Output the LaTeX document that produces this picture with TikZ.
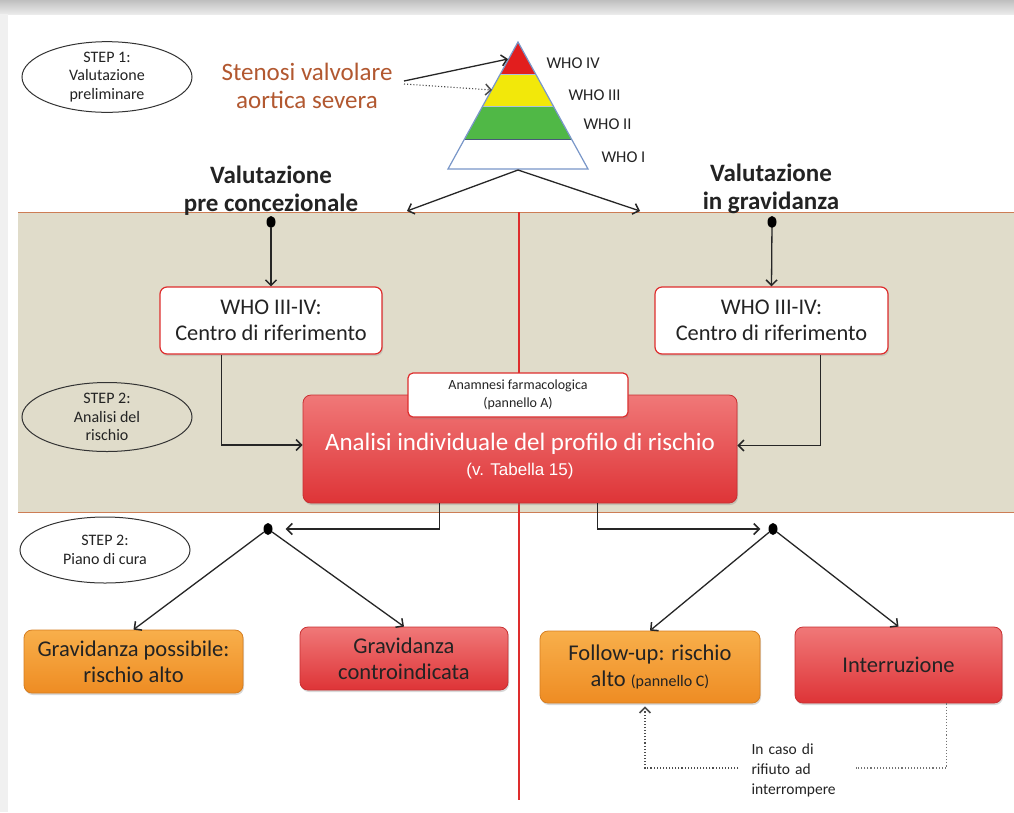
\documentclass[tikz,border=0pt]{standalone}
\usepackage{fontspec}
\setmainfont{Carlito}
\newfontfamily\arialfont{Liberation Sans}
\usetikzlibrary{arrows.meta,shadows,calc,shapes.geometric}
\definecolor{beige}{RGB}{224,220,202}
\definecolor{bandline}{RGB}{205,125,85}
\definecolor{vred}{RGB}{222,45,45}
\definecolor{stencol}{RGB}{178,88,48}
\definecolor{pyrred}{RGB}{226,30,30}
\definecolor{pyryel}{RGB}{242,232,10}
\definecolor{pyrgreen}{RGB}{80,184,70}
\definecolor{pyrline}{RGB}{120,150,200}
\definecolor{txt}{RGB}{35,35,35}
\definecolor{redtop}{RGB}{240,120,120}
\definecolor{redbot}{RGB}{222,52,55}
\definecolor{orgtop}{RGB}{248,175,75}
\definecolor{orgbot}{RGB}{238,140,35}
\tikzset{
  arr/.style={-{Straight Barb[length=5.5pt,width=11pt,line width=1.5pt]},line width=1.3pt,draw=black!85},
  dotline/.style={dotted,line width=1.1pt,draw=black!55},
  stepell/.style={ellipse,draw=black!80,line width=1pt,minimum width=170pt,minimum height=69pt,inner sep=0pt,align=center,font=\fontsize{16}{18.5}\selectfont,text=txt},
  bigtitle/.style={align=center,font=\fontsize{25}{28}\selectfont\bfseries,text=txt},
  whobox/.style={rectangle,rounded corners=7pt,draw=vred,line width=1.2pt,fill=white,align=center,font=\fontsize{22.4}{26.5}\selectfont,text=txt,drop shadow={opacity=0.25,shadow xshift=1pt,shadow yshift=-2pt}},
  redbox/.style={rectangle,rounded corners=8pt,draw=redbot!90!black,line width=0.8pt,top color=redtop,bottom color=redbot,align=center,text=txt,drop shadow={opacity=0.3,shadow xshift=1pt,shadow yshift=-2pt}},
  orgbox/.style={rectangle,rounded corners=8pt,draw=orgbot!90!black,line width=0.8pt,top color=orgtop,bottom color=orgbot,align=center,text=txt,drop shadow={opacity=0.3,shadow xshift=1pt,shadow yshift=-2pt}},
  dot/.style={ellipse,fill=black,minimum width=9pt,minimum height=12pt,inner sep=0pt},
  wholab/.style={anchor=west,font=\fontsize{16.5}{18}\selectfont,text=txt},
}
\begin{document}
\begin{tikzpicture}[x=1pt,y=-1pt]
\useasboundingbox (0,0) rectangle (1014,812);
% page background
\fill[white] (0,0) rectangle (1014,812);
\shade[top color=black!25,bottom color=black!8] (0,0) rectangle (1014,14);
\fill[black!6] (0,14) rectangle (8,812);
% band
\fill[beige] (18,212) rectangle (1014,512);
\draw[bandline,line width=1pt] (18,212) -- (1014,212);
\draw[bandline,line width=1pt] (18,512) -- (1014,512);
\draw[vred,line width=1.6pt] (519,212) -- (519,800);

% step ellipses
\node[stepell] (step1) at (107,77) {STEP 1:\\Valutazione\\preliminare};
\node[stepell] (step2) at (107,417) {STEP 2:\\Analisi del\\rischio};
\node[stepell,minimum height=66pt] (step3) at (105,550) {STEP 2:\\Piano di cura};

% stenosi
\node[align=center,font=\fontsize{25}{28}\selectfont,text=stencol] (sten) at (307,86) {Stenosi valvolare\\aortica severa};

% pyramid
\fill[white] (448,169) -- (588,169) -- (571.1,139) -- (464.9,139) -- cycle;
\fill[pyrgreen] (464.9,139) -- (571.1,139) -- (553,106) -- (483,106) -- cycle;
\fill[pyryel] (483,106) -- (553,106) -- (535.5,74) -- (500.5,74) -- cycle;
\fill[pyrred] (500.5,74) -- (535.5,74) -- (518,42) -- cycle;
\draw[pyrline!60!black,line width=0.8pt] (464.9,139) -- (571.1,139);
\draw[pyrline!60!white,line width=0.8pt] (483,106) -- (553,106);
\draw[pyrline!60!white,line width=0.8pt] (500.5,74) -- (535.5,74);
\draw[pyrline,line width=1.2pt] (518,42) -- (588,169) -- (448,169) -- cycle;
\coordinate (pbase) at (518,170);
\coordinate (pred) at (508,59);
\coordinate (pyel) at (492,90);
\coordinate (s1) at (404,81);
\coordinate (s2) at (404,84);
\node[wholab] (w4) at (543,63) {WHO IV};
\node[wholab] (w3) at (565,95) {WHO III};
\node[wholab] (w2) at (580,124) {WHO II};
\node[wholab] (w1) at (598,157) {WHO I};

\draw[arr] (s1) -- (pred);
\draw[dotline,-{Straight Barb[length=5.5pt,width=11pt,line width=1.5pt,sep=0pt]},draw=black!70] (s2) -- (pyel);

% headers
\node[bigtitle] (hl) at (271,191) {Valutazione\\pre concezionale};
\node[bigtitle] (hr) at (771,189) {Valutazione\\in gravidanza};
\coordinate (tl) at (407,211);
\coordinate (tr) at (640,211);
\draw[arr] (pbase) -- (tl);
\draw[arr] (pbase) -- (tr);

% dots and WHO boxes
\node[dot] (d1) at (271,222) {};
\node[dot] (d2) at (772,222) {};
\node[whobox,minimum width=222pt,minimum height=67pt] (who1) at (271,320.5) {WHO III-IV:\\Centro di riferimento};
\node[whobox,minimum width=233pt,minimum height=67pt] (who2) at (771.5,320.5) {WHO III-IV:\\Centro di riferimento};
\draw[arr] (d1) -- (who1.north);
\draw[arr] (d2) -- (who2.north);

% central analysis
\node[redbox,minimum width=434pt,minimum height=108pt,text=white,font=\fontsize{25}{25}\selectfont] (anal) at (520,449) {\rule{0pt}{31pt}Analisi individuale del profilo di rischio\\{\arialfont\fontsize{17}{19}\selectfont(v. Tabella 15)}};
\node[whobox,minimum width=220pt,minimum height=44pt,rounded corners=5pt,font=\fontsize{14}{18.5}\selectfont] (anam) at (518,395) {Anamnesi farmacologica\\(pannello A)};

\draw[arr] ([xshift=62pt]who1.south west) |- ([yshift=4pt]anal.west);
\draw[arr] ([xshift=-68pt]who2.south east) |- ([yshift=3.5pt]anal.east);

% bottom dots
\node[dot] (d3) at (268,529) {};
\node[dot] (d4) at (773,529) {};
\draw[arr,shorten >=13pt] ([xshift=137pt]anal.south west) |- (d3.east);
\draw[arr,shorten >=8pt] ([xshift=295pt]anal.south west) |- (d4.west);

% outcome boxes
\node[orgbox,minimum width=219pt,minimum height=63pt,font=\fontsize{22.5}{26}\selectfont] (gp) at (133.5,661.5) {Gravidanza possibile:\\rischio alto};
\node[redbox,minimum width=208pt,minimum height=63pt,font=\fontsize{22.5}{26}\selectfont] (gc) at (404,658.5) {Gravidanza\\controindicata};
\node[orgbox,minimum width=220pt,minimum height=72pt,font=\fontsize{22.5}{26}\selectfont] (fu) at (650,667) {Follow-up: rischio\\alto {\fontsize{16}{18}\selectfont(pannello C)}};
\node[redbox,minimum width=207pt,minimum height=76pt,font=\fontsize{22.5}{26}\selectfont] (intr) at (898.5,665) {Interruzione};
\draw[arr] (d3) -- (gp.north);
\draw[arr] (d3) -- (gc.north);
\draw[arr] (d4) -- (fu.north);
\draw[arr] (d4) -- (intr.north);

% refusal loop
\node[align=left,text width=91pt,inner xsep=13pt,inner ysep=0pt,font=\fontsize{15.5}{20}\selectfont,text=txt] (ref) at (797,770) {In caso di\\rifiuto ad\\interrompere};
\draw[dotline] ([xshift=-56pt]intr.south east) |- ([yshift=2pt]ref.east);
\draw[dotline,-{Straight Barb[length=5.5pt,width=11pt,line width=1.5pt,sep=0pt]},draw=black!70] ([yshift=2pt]ref.west) -| ([xshift=-5pt,yshift=-3pt]fu.south);
\end{tikzpicture}
\end{document}
